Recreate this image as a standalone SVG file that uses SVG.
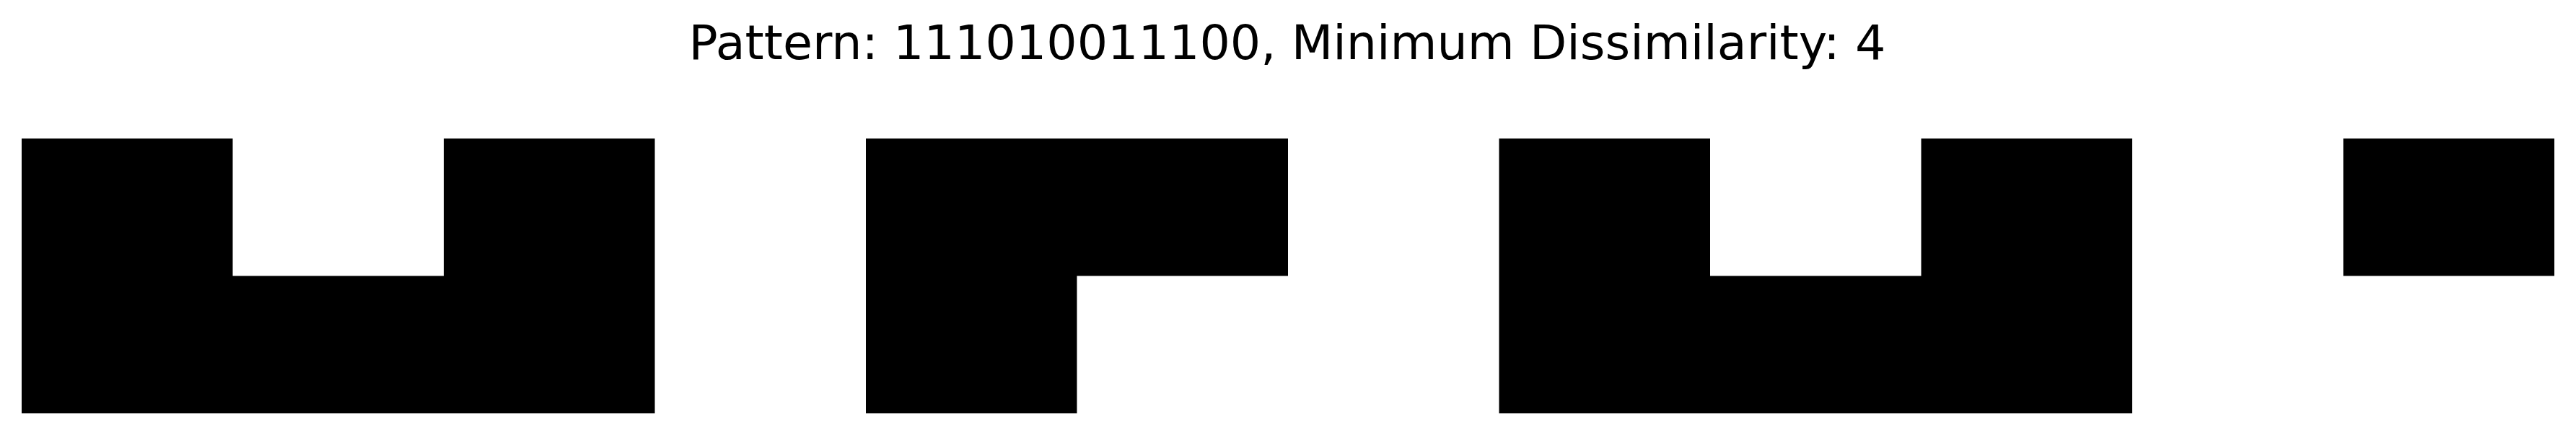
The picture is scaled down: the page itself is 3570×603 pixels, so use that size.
<svg xmlns="http://www.w3.org/2000/svg" width="3570" height="603" viewBox="0 0 3570 603">
<style>
.cell{fill:#000000;stroke:none;}
.title{font-family:"DejaVu Sans","Liberation Sans",sans-serif;font-size:66.7px;fill:#000000;}
</style>
<rect x="0" y="0" width="3570" height="603" fill="#ffffff"/>
<text class="title" x="1784" y="82" text-anchor="middle">Pattern: 111010011100, Minimum Dissimilarity: 4</text>
<g id="shape1">
<path class="cell" d="M30,192 H322.5 V382.5 H615 V192 H907.5 V573 H30 Z"/>
</g>
<g id="shape2">
<path class="cell" d="M1200,192 H1785 V382.5 H1492.5 V573 H1200 Z"/>
</g>
<g id="shape3">
<path class="cell" d="M2077.5,192 H2370 V382.5 H2662.5 V192 H2955 V573 H2077.5 Z"/>
</g>
<g id="shape4">
<path class="cell" d="M3247.5,192 H3540 V382.5 H3247.5 Z"/>
</g>
<g id="connectors"></g>
</svg>
